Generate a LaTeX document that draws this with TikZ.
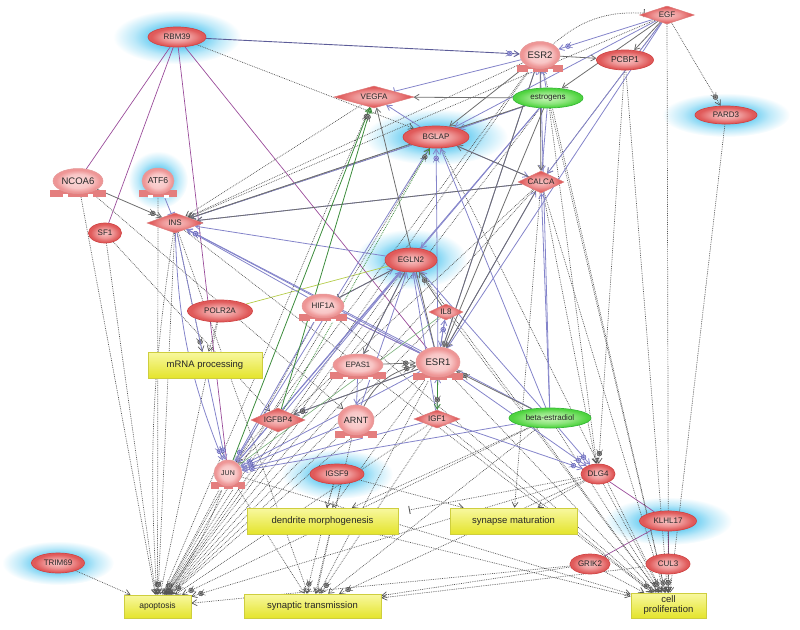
\documentclass[tikz,border=0pt]{standalone}
\usepackage{fontspec}
\setmainfont{Liberation Sans}
\usetikzlibrary{shapes.geometric,arrows.meta,decorations.markings}
\pgfdeclarelayer{halo}
\pgfdeclarelayer{edges}
\pgfsetlayers{halo,edges,main}

\definecolor{haloc}{HTML}{6CCEF2}
\definecolor{redline}{HTML}{D04444}
\definecolor{redin}{HTML}{F8C6C6}
\definecolor{redmid}{HTML}{EE9696}
\definecolor{redout}{HTML}{E05A5A}
\definecolor{grnline}{HTML}{36B836}
\definecolor{grnin}{HTML}{C8F6B8}
\definecolor{grnout}{HTML}{50D440}
\definecolor{boxtop}{HTML}{F8F8A0}
\definecolor{boxbot}{HTML}{E4E42C}
\definecolor{boxline}{HTML}{CECE3E}
\definecolor{bluec}{HTML}{8484CA}
\definecolor{dkbluec}{HTML}{5C5C98}
\definecolor{gryc}{HTML}{6E6E6E}
\definecolor{dotc}{HTML}{555555}
\definecolor{purc}{HTML}{9A4C9A}
\definecolor{grnc}{HTML}{3C8C3C}
\definecolor{ygrnc}{HTML}{B4CC48}
\definecolor{mkbfill}{HTML}{B4B4EE}
\definecolor{mkbline}{HTML}{6464B0}
\definecolor{mkgfill}{HTML}{9A9A9A}
\definecolor{mkgline}{HTML}{4A4A4A}
\definecolor{basec}{HTML}{E47E7E}

\pgfdeclareradialshading{redrad}{\pgfpoint{0bp}{0bp}}{color(0bp)=(redin); color(12bp)=(redmid); color(22bp)=(redout); color(25bp)=(redout); color(50bp)=(redout)}
\pgfdeclareradialshading{recrad}{\pgfpoint{0bp}{0bp}}{color(0bp)=(redin!70!white); color(14bp)=(redin); color(22bp)=(redmid); color(25bp)=(redmid); color(50bp)=(redmid)}
\pgfdeclareradialshading{grnrad}{\pgfpoint{0bp}{0bp}}{color(0bp)=(grnin); color(14bp)=(grnin!50!grnout); color(23bp)=(grnout); color(25bp)=(grnout); color(50bp)=(grnout)}
\pgfdeclareradialshading{halorad}{\pgfpoint{0bp}{0bp}}{color(0bp)=(haloc); color(10bp)=(haloc); color(17bp)=(haloc!45!white); color(25bp)=(white); color(50bp)=(white)}

\tikzset{
 zlab/.style={font=\fontsize{8}{9}\selectfont,text=black!85},
 ell/.style={ellipse,draw=redline,line width=.7pt,shade,shading=redrad,inner sep=0pt,zlab},
 recell/.style={ellipse,draw=redline!55,line width=.5pt,shade,shading=recrad,inner sep=0pt,text=black!85},
 gell/.style={ellipse,draw=grnline,line width=.7pt,shade,shading=grnrad,inner sep=0pt,zlab},
 dia/.style={diamond,draw=redline!70,line width=.5pt,shade,shading=redrad,inner sep=0pt,zlab},
 pbox/.style={rectangle,draw=boxline,line width=.6pt,top color=boxtop,bottom color=boxbot,inner sep=0pt,font=\fontsize{9.5}{11}\selectfont,align=center,text=black!85},
 myarr/.style={-{Straight Barb[length=5pt,width=6pt]}},
 blu/.style={draw=bluec,line width=.8pt,myarr},
 gry/.style={draw=gryc,line width=.8pt,myarr},
 gdot/.style={draw=dotc,line width=.7pt,dash pattern=on .8pt off 1pt,myarr},
 pur/.style={draw=purc,line width=.7pt},
 grn/.style={draw=grnc,line width=.8pt,myarr},
 inh/.style={-{Bar[width=8pt,line width=.9pt]}},
 mkb/.style={postaction={decorate,decoration={markings,mark=at position -10pt with {\draw[solid,fill=mkbfill,draw=mkbline,line width=.5pt] (0,0) circle (2.4pt); \draw[solid,mkbline,line width=.4pt] (-1.3pt,0)--(1.3pt,0);}}}},
 mkg/.style={postaction={decorate,decoration={markings,mark=at position -10pt with {\draw[solid,fill=mkgfill,draw=mkgline,line width=.5pt] (0,0) circle (2.4pt); \draw[solid,mkgline,line width=.4pt] (-1.3pt,0)--(1.3pt,0);}}}},
}

\newcommand\recp[7]{%
 \fill[basec] ({#2-#4/2-3},{#3+#5/2-4}) rectangle ({#2+#4/2+3},{#3+#5/2+3});
 \fill[white] ({#2-#4/4-2.5},{#3+#5/2+0.5}) rectangle ({#2-#4/4+2.5},{#3+#5/2+3.5});
 \fill[white] ({#2+#4/4-2.5},{#3+#5/2+0.5}) rectangle ({#2+#4/4+2.5},{#3+#5/2+3.5});
 \node[recell,minimum width=#4pt,minimum height=#5pt,font=\fontsize{#7}{#7}\selectfont] (#1) at (#2,#3) {#6};
}

\begin{document}
\begin{tikzpicture}[x=1pt,y=-1pt]
\useasboundingbox (0,0) rectangle (800,629);

% halos
\begin{pgfonlayer}{halo}
\foreach \x/\y/\a/\b in {177/37/64/27, 158/180/30/29, 436/137/72/28, 411/259/56/30, 337/474/56/25, 726/115/64/22, 668/521/64/24, 58/563/56/22}
  \shade[shading=halorad] (\x,\y) ellipse ({\a pt} and {\b pt});
\end{pgfonlayer}

% ellipse nodes
\node[ell,minimum width=58pt,minimum height=20pt] (rbm) at (177,37) {RBM39};
\node[ell,minimum width=57pt,minimum height=20pt,font=\fontsize{8.5}{9}\selectfont] (pcbp) at (625,60) {PCBP1};
\node[gell,minimum width=70pt,minimum height=20pt] (estro) at (548,98) {estrogens};
\node[ell,minimum width=62pt,minimum height=18pt] (pard) at (726,115) {PARD3};
\node[ell,minimum width=66pt,minimum height=22pt] (bglap) at (436,137) {BGLAP};
\node[ell,minimum width=33pt,minimum height=20pt] (sf1) at (105,233) {SF1};
\node[ell,minimum width=52pt,minimum height=24pt] (egln) at (411,260) {EGLN2};
\node[ell,minimum width=65pt,minimum height=22pt] (polr) at (220,311) {POLR2A};
\node[ell,minimum width=54pt,minimum height=20pt] (igsf) at (337,474) {IGSF9};
\node[ell,minimum width=34pt,minimum height=20pt] (dlg) at (598,474) {DLG4};
\node[gell,minimum width=82pt,minimum height=20pt] (bestr) at (550,418) {beta-estradiol};
\node[ell,minimum width=57pt,minimum height=20pt] (klhl) at (668,521) {KLHL17};
\node[ell,minimum width=53pt,minimum height=20pt] (trim) at (58,563) {TRIM69};
\node[ell,minimum width=40pt,minimum height=20pt] (grik) at (590,564) {GRIK2};
\node[ell,minimum width=44pt,minimum height=20pt] (cul) at (668,564) {CUL3};

% diamonds
\node[dia,minimum width=55pt,minimum height=18pt,aspect=3] (egf) at (667,15) {EGF};
\node[dia,minimum width=80pt,minimum height=22pt,aspect=3.6] (vegfa) at (374,97) {VEGFA};
\node[dia,minimum width=46pt,minimum height=22pt,aspect=2.1] (calca) at (541,182) {CALCA};
\node[dia,minimum width=56pt,minimum height=20pt,aspect=2.8] (ins) at (175,223) {INS};
\node[dia,minimum width=34pt,minimum height=16pt,aspect=2.1] (il8) at (446,312) {IL8};
\node[dia,minimum width=54pt,minimum height=24pt,aspect=2.25] (igfbp) at (278,420) {IGFBP4};
\node[dia,minimum width=46pt,minimum height=18pt,aspect=2.5] (igf1) at (437,419) {IGF1};

% receptor-like nodes
\recp{esr2}{540}{55}{40}{27}{ESR2}{9.5}
\recp{ncoa}{78}{181}{50}{25}{NCOA6}{9.5}
\recp{atf}{158}{181}{32}{26}{ATF6}{8.6}
\recp{hif}{323}{306}{42}{24}{HIF1A}{8}
\recp{epas}{358}{365}{50}{22}{EPAS1}{7.8}
\recp{esr1}{438}{362}{44}{30}{ESR1}{9.5}
\recp{arnt}{356}{420}{36}{30}{ARNT}{9}
\recp{jun}{228}{473}{28}{26}{JUN}{7}

% process boxes
\node[pbox,minimum width=114pt,minimum height=26pt] (mrna) at (205,365) {mRNA processing};
\node[pbox,minimum width=151pt,minimum height=26pt] (dend) at (322.5,521) {dendrite morphogenesis};
\node[pbox,minimum width=127pt,minimum height=26pt] (synm) at (513.5,521) {synapse maturation};
\node[pbox,minimum width=67pt,minimum height=23pt,font=\fontsize{8.5}{10}\selectfont] (apop) at (157.5,606.5) {apoptosis};
\node[pbox,minimum width=137pt,minimum height=24pt] (syntr) at (312.5,606) {synaptic transmission};
\node[pbox,minimum width=75pt,minimum height=25pt] (cellp) at (668.5,605.5) {cell\\[-1pt]proliferation};
\coordinate (dendbar) at (409,510);

\begin{pgfonlayer}{edges}
% binding (purple)
\foreach \s/\t in {rbm/ncoa, rbm/sf1, rbm/jun, rbm/esr1, hif/esr1, dlg/klhl, grik/klhl, klhl/cul}
  \draw[pur] (\s) -- (\t);
\draw[draw=ygrnc,line width=.7pt] (polr) -- (egln);

% dotted to apoptosis
\foreach \s in {ncoa, sf1, trim, igfbp, hif, vegfa, calca, esr2, estro, igf1, il8, grik, polr, epas, arnt, egln}
  \draw[gdot] (\s) -- (apop);
\foreach \s in {atf, ins, jun, esr1, bglap, bestr, dlg}
  \draw[gdot,mkg] (\s) -- (apop);
\draw[gdot] (ins) to[bend right=6] (apop);
\draw[gdot] (jun) to[bend left=8] (apop);

% dotted to cell proliferation
\foreach \s in {egf, pcbp, pard, esr2, calca, igf1, esr1, klhl, grik, ins, il8, dend, bglap, egln, jun}
  \draw[gdot] (\s) -- (cellp);
\foreach \s in {estro, bestr, dlg, cul, hif}
  \draw[gdot,mkg] (\s) -- (cellp);

% dotted to synaptic transmission
\foreach \s in {ins, jun, arnt, esr1, grik, cul, bestr}
  \draw[gdot] (\s) -- (syntr);
\foreach \s in {dlg, igf1}
  \draw[gdot,mkg] (\s) -- (syntr);
\draw[gdot,mkg] ([xshift=-4pt]igsf.south) -- ([xshift=-6pt]syntr.north);
\draw[gdot] ([xshift=4pt]igsf.south) -- ([xshift=4pt]syntr.north);

% other dotted
\draw[gdot,mkg] (egf) -- (pard);
\draw[gdot,inh] (esr2) to[bend left=22] (egf);
\draw[gdot] (rbm) -- (bglap);
\draw[gdot,mkg] (pcbp) -- (dlg);
\foreach \s/\t in {esr2/ins, estro/ins, egf/ins, vegfa/ins, bglap/ins, esr2/jun, calca/jun, ncoa/arnt, sf1/igfbp, igsf/dend, igsf/synm, dlg/synm, esr1/dend, bestr/dend, calca/dlg, egf/calca, estro/dlg, calca/synm}
  \draw[gdot] (\s) -- (\t);
\draw[gdot,mkg] (ins) -- (mrna);
\draw[gdot] (polr) -- (mrna);
\draw[gdot,inh] (dlg) -- (dendbar);

% blue edges
\draw[draw=dkbluec,line width=.9pt,myarr,mkb] (rbm) -- (esr2);
\draw[blu,mkb] (egf) -- (esr2);
\draw[draw=bluec,line width=.8pt,inh] (esr2) -- (vegfa.north east);
\draw[draw=bluec,line width=.8pt,inh] (atf) -- (ins);
\foreach \s/\t in {estro/esr2, estro/bglap, bglap/vegfa, bglap/ins, egln/ins, hif/ins, esr1/egln, hif/egln, epas/egln, arnt/egln, igf1/egln, bestr/egln, jun/egln, igfbp/egln, estro/egln, jun/bglap, bestr/bglap, igf1/esr1, epas/arnt, bestr/calca, bestr/esr2, estro/calca, esr1/calca, egf/calca, esr1/esr2, il8/esr1, esr1/hif, bglap/calca, egf/esr1, egf/bglap, estro/jun, calca/ins}
  \draw[blu] (\s) -- (\t);
\foreach \s/\t in {esr1/ins, ins/jun, esr1/bglap, esr1/jun, igf1/jun, arnt/jun, bestr/jun, esr1/dlg, igf1/dlg, bestr/dlg, esr1/il8, hif/jun, esr1/igfbp, bestr/ins}
  \draw[blu,mkb] (\s) -- (\t);
\draw[blu,mkb] (ins) to[bend right=10] (jun);

% gray solid edges
\foreach \s/\t in {esr2/pcbp, egf/pcbp, calca/ins, estro/ins, esr2/calca, estro/esr1, calca/esr1, egln/epas, esr2/esr1, esr1/vegfa, calca/bglap, egf/estro, estro/vegfa, esr2/bglap}
  \draw[gry] (\s) -- (\t);
\foreach \s/\t in {ncoa/ins, bestr/esr1, epas/esr1, il8/egln, esr1/igfbp}
  \draw[gry,mkg] (\s) -- (\t);
\draw[gry,mkg] (arnt) to[bend left=25] (esr1);
\draw[draw=gryc,line width=.8pt,inh] (egln) -- (hif);

% green edges
\draw[grn,mkg] (jun) -- (vegfa);
\draw[grn,mkg] (igfbp) -- (vegfa);
\draw[grn,mkg] (esr1) -- (igf1);
\draw[grn,dash pattern=on .8pt off 1pt,mkg] (igfbp) -- (bglap);
\draw[draw=grnc!70,line width=.6pt] (il8) -- (jun);
\end{pgfonlayer}
\end{tikzpicture}
\end{document}
